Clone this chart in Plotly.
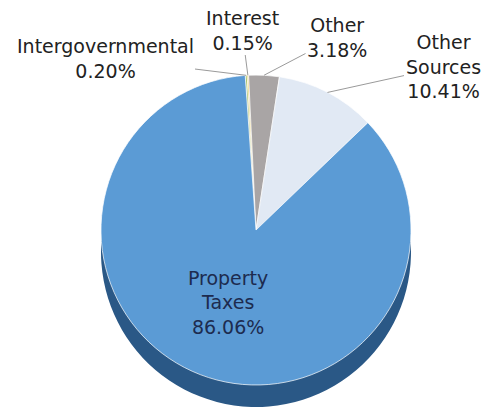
import math
import plotly.graph_objects as go

# Revenue shares (percent of total)
labels = ["Intergovernmental", "Interest", "Other", "Other Sources", "Property Taxes"]
shares = [0.20, 0.15, 3.18, 10.41, 86.06]
# line-broken label text as printed on the chart
label_lines = ["Intergovernmental", "Interest", "Other", "Other<br>Sources", "Property<br>Taxes"]

face_colors = ["#9bbb59", "#e8c34a", "#a9a5a5", "#e1e9f4", "#5b9bd5"]
side_colors = ["#5c7a30", "#8a7020", "#6b6868", "#8fa3bd", "#2a5886"]

W, H = 496, 412
CX, CY, R = 256, 230, 155          # pie face centre / radius in pixels
DEPTH = 22                          # thickness of the rim below the face
ROTATION = -4

def dom(cx, cy, r):
    return dict(x=[(cx - r) / W, (cx + r) / W],
                y=[1 - (cy + r) / H, 1 - (cy - r) / H])

fig = go.Figure()

# darker copy underneath, shifted down, forms the rim
fig.add_trace(go.Pie(
    labels=labels, values=shares, sort=False, direction="clockwise",
    rotation=ROTATION, domain=dom(CX, CY + DEPTH, R),
    marker=dict(colors=side_colors, line=dict(width=0)),
    textinfo="none", hoverinfo="skip", showlegend=False,
))

# top face
fig.add_trace(go.Pie(
    labels=labels, values=shares, sort=False, direction="clockwise",
    rotation=ROTATION, domain=dom(CX, CY, R),
    marker=dict(colors=face_colors,
                line=dict(color="rgba(255,255,255,0.7)", width=1)),
    text=label_lines,
    texttemplate=["", "", "", "", "%{text}<br>%{value:.2f}%"],
    textposition=["none", "none", "none", "none", "inside"],
    insidetextorientation="horizontal",
    insidetextfont=dict(family="DejaVu Sans", size=19, color="#1d2b4f"),
    showlegend=False,
))

# label positions (text centre, pixels) for the small slices
label_pos = {
    "Intergovernmental": (105, 58),
    "Interest": (242, 30),
    "Other": (337, 37),
    "Other Sources": (443, 67),
}

total = sum(shares)
start = ROTATION
for name, txt, v in zip(labels, label_lines, shares):
    span = v / total * 360
    mid = math.radians(start + span / 2)
    start += span
    if name not in label_pos:
        continue
    hx = CX + R * math.sin(mid)
    hy = CY - R * math.cos(mid)
    tx, ty = label_pos[name]
    fig.add_annotation(
        x=hx / W, y=1 - hy / H, xref="paper", yref="paper",
        ax=tx - hx, ay=ty - hy,
        text=f"{txt}<br>{v:.2f}%",
        showarrow=True, arrowhead=0, arrowwidth=1, arrowcolor="#9a9a9a",
        font=dict(family="DejaVu Sans", size=19, color="#222222"),
        align="center",
    )

fig.update_layout(
    width=W, height=H,
    margin=dict(l=0, r=0, t=0, b=0),
    paper_bgcolor="white", plot_bgcolor="white",
)

fig.write_html("out.html")
